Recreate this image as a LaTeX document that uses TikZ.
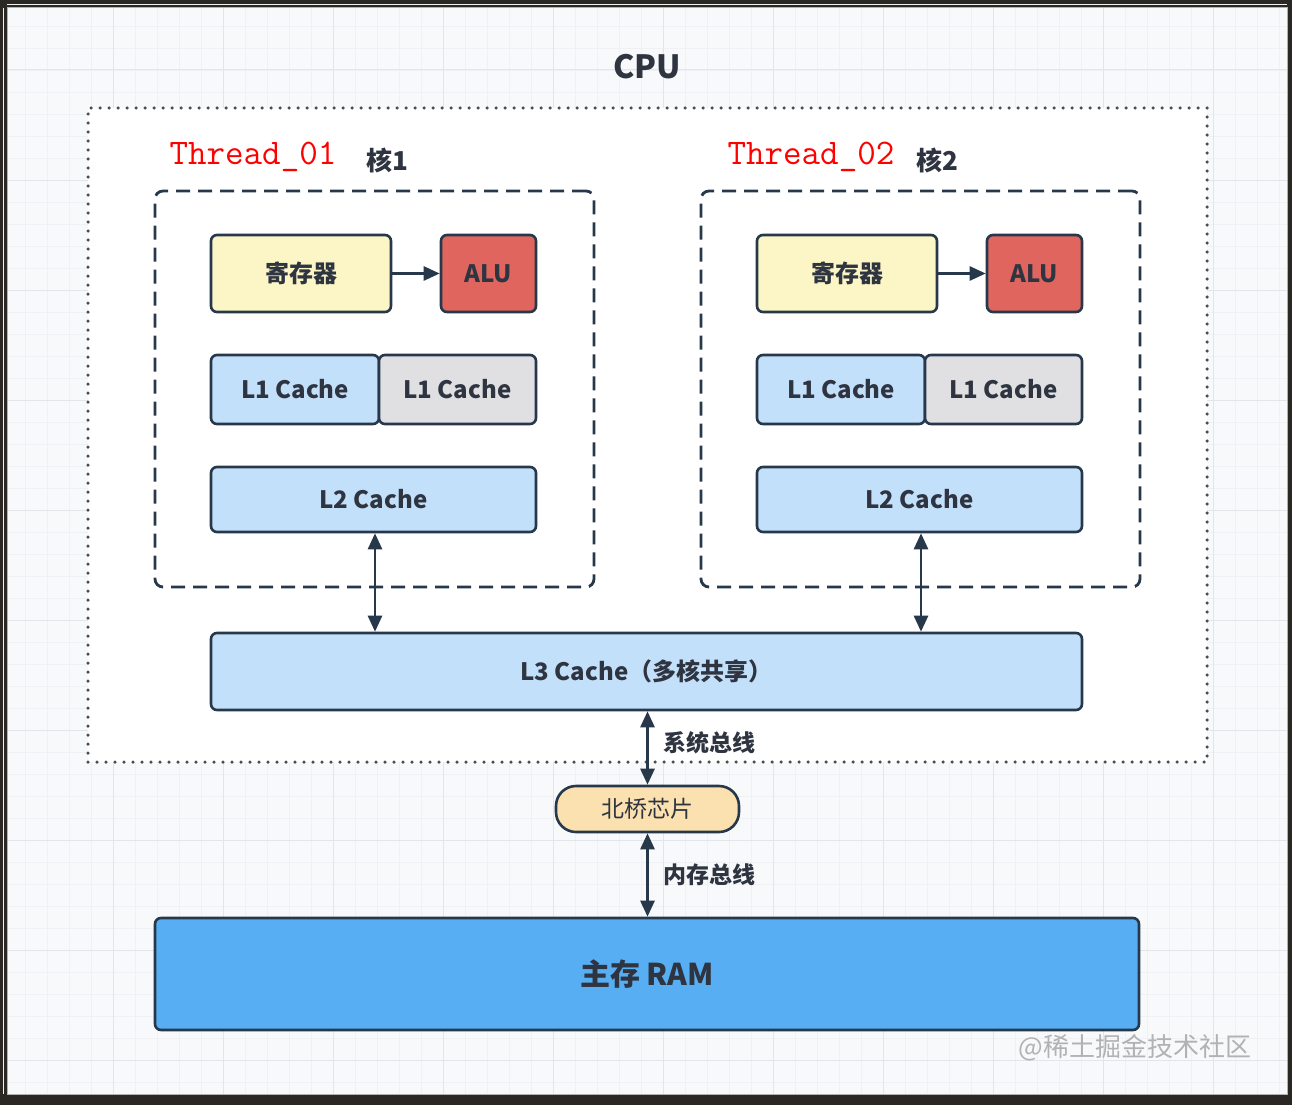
\documentclass[tikz,border=0pt]{standalone}
\usepackage{fontspec}
\setmainfont{Noto Sans CJK SC}
\usetikzlibrary{arrows.meta}

\definecolor{frame}{HTML}{2B2723}
\definecolor{paper}{HTML}{F8F9FB}
\definecolor{gridminor}{HTML}{F0F1F4}
\definecolor{gridmajor}{HTML}{E3E5EA}
\definecolor{edge}{HTML}{26384A}
\definecolor{ink}{HTML}{2E3440}
\definecolor{regfill}{HTML}{FCF6C6}
\definecolor{alufill}{HTML}{E0655E}
\definecolor{cachefill}{HTML}{C3E0FB}
\definecolor{greyfill}{HTML}{E0E0E3}
\definecolor{bridgefill}{HTML}{FBE0B0}
\definecolor{ramfill}{HTML}{58AEF2}

\begin{document}
\begin{tikzpicture}[x=1pt,y=-1pt,
    unit/.style={draw=edge, line width=2.6pt, rounded corners=6pt, inner sep=0pt,
      text=ink, font=\fontsize{24}{28}\selectfont\bfseries},
    core/.style={draw=edge, line width=2.8pt, rounded corners=8pt, dash pattern=on 14pt off 8pt},
    link/.style={draw=edge, line width=2.6pt, -{Triangle[length=16pt,width=14pt]}},
    bus/.style={link, {Triangle[length=16pt,width=14pt]}-{Triangle[length=16pt,width=14pt]}},
    thread/.style={text=red, anchor=west, font=\ttfamily\fontsize{36}{40}\selectfont},
    corename/.style={text=ink, anchor=west, font=\fontsize{26}{30}\selectfont\bfseries},
    buslabel/.style={text=ink, anchor=west, font=\fontsize{23}{28}\selectfont\bfseries}]
  \useasboundingbox (0,0) rectangle (1292,1105);

  % Screen frame and grid paper
  \fill[frame] (0,0) rectangle (1292,1105);
  \fill[paper] (7,8) rectangle (1287,1094);
  \foreach \x in {3,25,...,1287} \draw[gridminor, line width=0.8pt] (\x,8) -- (\x,1094);
  \foreach \y in {4,26,...,1094} \draw[gridminor, line width=0.8pt] (7,\y) -- (1287,\y);
  \foreach \x in {113,223,...,1287} \draw[gridmajor, line width=1pt] (\x,8) -- (\x,1094);
  \foreach \y in {70,180,...,1094} \draw[gridmajor, line width=1pt] (7,\y) -- (1287,\y);
  \draw[gray!60, line width=1pt] (7,8) rectangle (1287,1094);

  % CPU
  \node[text=ink, font=\fontsize{32}{36}\selectfont\bfseries] (cpulabel) at (647,67) {CPU};
  \node[draw=black!70, fill=white, line width=3.5pt, line cap=round, dash pattern=on 0pt off 9pt,
    minimum width=1119, minimum height=654] (cpu) at (647.5,435) {};

  % Two cores
  \foreach \dx/\n/\tx/\kx in {0/1/166/363, 546/2/724/913} {
    \node[thread] (thread\n) at (\tx,157) {Thread\_0\n};
    \node[corename] (name\n) at (\kx,160) {核\n};
    \node[core, minimum width=439, minimum height=396] (core\n) at (374.5+\dx,389) {};
    \node[unit, fill=regfill, minimum width=180, minimum height=77] (reg\n) at (301+\dx,273.5) {寄存器};
    \node[unit, fill=alufill, minimum width=95, minimum height=77] (alu\n) at (488.5+\dx,273.5) {ALU};
    \node[unit, fill=cachefill, minimum width=168, minimum height=69] (l1d\n) at (295+\dx,389.5) {L1 Cache};
    \node[unit, fill=greyfill, minimum width=157, minimum height=69] (l1i\n) at (457.5+\dx,389.5) {L1 Cache};
    \node[unit, fill=cachefill, minimum width=325, minimum height=65] (l2\n) at (373.5+\dx,499.5) {L2 Cache};
    \draw[link] (reg\n) -- (alu\n);
  }

  % Shared cache, bridge and memory
  \node[unit, fill=cachefill, minimum width=871, minimum height=77] (l3) at (646.5,671.5) {L3 Cache（多核共享）};
  \node[unit, fill=bridgefill, rounded corners=20pt, minimum width=183, minimum height=46,
    font=\fontsize{23}{28}\selectfont] (bridge) at (647.5,809) {北桥芯片};
  \node[unit, fill=ramfill, minimum width=984, minimum height=112,
    font=\fontsize{30}{34}\selectfont\bfseries] (ram) at (647,974) {主存 RAM};

  \foreach \n in {1,2}
    \draw[bus] ([xshift=1.5pt]l2\n.south) -- ([xshift=1.5pt]l2\n.south |- l3.north);
  \draw[bus] (bridge.north |- l3.south) -- (bridge.north);
  \draw[bus] (bridge.south) -- (bridge.south |- ram.north);
  \node[buslabel] (sysbus) at (660,743) {系统总线};
  \node[buslabel] (membus) at (660,875) {内存总线};

  % Watermark
  \node[text=black!30, font=\fontsize{26}{30}\selectfont] (mark) at (1135,1048) {@稀土掘金技术社区};
\end{tikzpicture}
\end{document}
